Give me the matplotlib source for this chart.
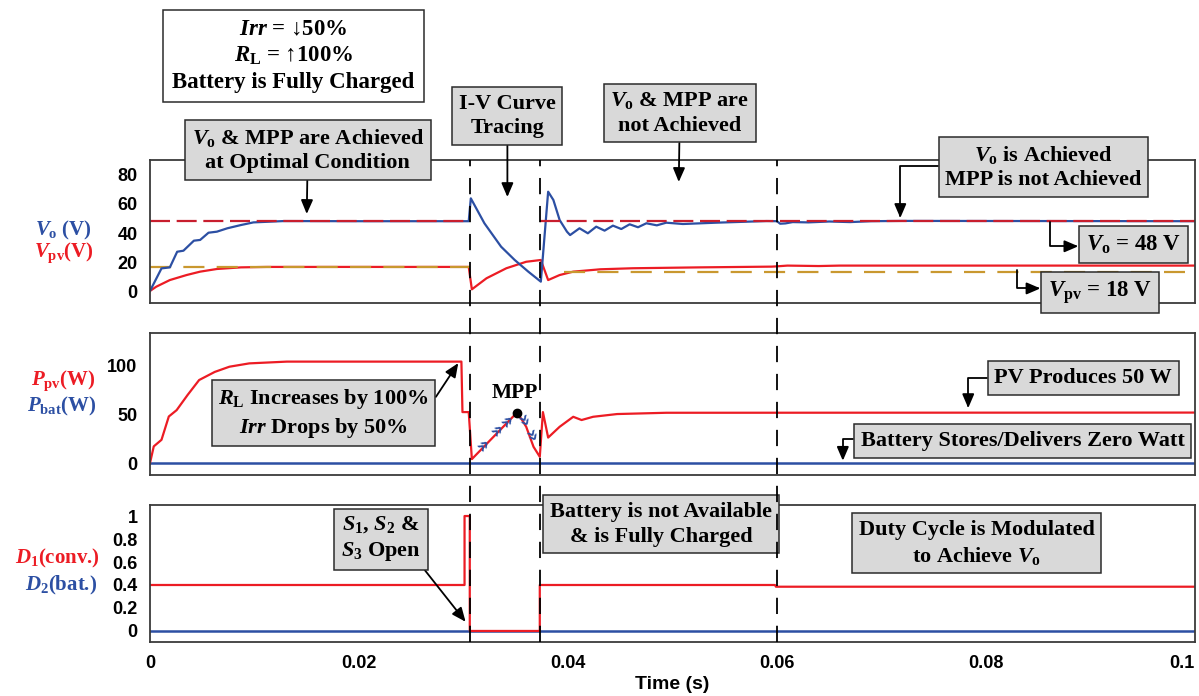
import matplotlib
matplotlib.use("Agg")
import matplotlib.pyplot as plt
from matplotlib.lines import Line2D
from matplotlib.transforms import blended_transform_factory

# values
vo_t = [0, 0.0011, 0.0019, 0.0026, 0.0032, 0.0042, 0.0048, 0.0056, 0.0064, 0.0074,
        0.0087, 0.0099, 0.0128, 0.0200, 0.0305, 0.0307, 0.0320, 0.0336, 0.0349, 0.0362,
        0.0374, 0.0381, 0.0386, 0.0392, 0.0399, 0.0402, 0.0411, 0.0419, 0.0427, 0.0435,
        0.0443, 0.0451, 0.0459, 0.0467, 0.0475, 0.0485, 0.0494, 0.0510, 0.0542, 0.0590,
        0.0600, 0.0603, 0.0608, 0.0615, 0.0630, 0.0650, 0.0670, 0.0690, 0.0720, 0.1000]
vo_v = [0.7, 16, 16.7, 27.3, 28, 34.8, 35.3, 40.2, 40.9, 43.2,
        45.4, 47.2, 48.1, 48, 48, 63.5, 46.6, 30.7, 21.7, 13.8,
        7.0, 68, 62.4, 48.8, 40.9, 38.6, 43.2, 39.8, 44.3, 41.6,
        45, 42.7, 45.9, 43.9, 46.6, 45.2, 47, 46.1, 47, 48.1,
        48, 46.3, 46.5, 47.4, 47.2, 47.8, 47.4, 48, 48.2, 48]

vpv_t = [0, 0.0006, 0.0019, 0.0035, 0.0048, 0.0064, 0.0087, 0.0112, 0.0305, 0.0308,
         0.0322, 0.0341, 0.0360, 0.0374, 0.0381, 0.0392, 0.0405, 0.0431, 0.0462, 0.0526,
         0.0595, 0.0600, 0.0610, 0.0640, 0.0660, 0.1000]
vpv_v = [0.7, 3.6, 8.1, 11.5, 13.8, 15.6, 16.7, 17.0, 17.0, 1.8,
         9.3, 16.1, 20.5, 21.7, 8.1, 11.5, 13.8, 15.4, 16.1, 16.7,
         17.2, 17.4, 17.9, 17.6, 17.9, 17.9]

vo_ref_start = [0.0, 0.0373]
vo_ref_end = [0.0306, 0.1]
vo_ref_val = [48, 48]
vpv_ref_start = [0.0, 0.0396]
vpv_ref_end = [0.0306, 0.0990]
vpv_ref_val = [17.0, 13.6]

ppv_t = [0, 0.00036, 0.0011, 0.0018, 0.00255, 0.0036, 0.0047, 0.0062, 0.0076, 0.0095,
         0.0131, 0.0298, 0.0299, 0.0305, 0.0308, 0.0351, 0.0356, 0.0360, 0.0367, 0.0373,
         0.0376, 0.0381, 0.0392, 0.0405, 0.0413, 0.0424, 0.0447, 0.0494, 0.1000]
ppv_v = [0, 17, 23.7, 47.5, 54, 69.5, 84.7, 93, 98.3, 101.7,
         103.5, 103.5, 52, 52, 4, 51.3, 44, 37, 16.6, 6.4,
         52, 26, 37, 47.2, 43.9, 47.2, 50, 51.3, 51.5]
pbat_t = [0, 0.1]
pbat_v = [0, 0]

mpp_t = [0.0351]
mpp_v = [51.3]
chev_t = [0.0318, 0.0332, 0.0341, 0.0357, 0.0364]
chev_v = [19, 34, 43, 43, 28]
chev_rot = [45, 45, 45, -62, -62]

d1_t = [0, 0.0301, 0.0301, 0.0306, 0.0306, 0.0373, 0.0373, 0.0598, 0.0599, 0.1]
d1_v = [0.4, 0.4, 1, 1, 0, 0, 0.4, 0.4, 0.385, 0.385]
d2_t = [0, 0.1]
d2_v = [0, 0]

event_t = [0.0306, 0.0373, 0.06]

x_ticks = [0, 0.02, 0.04, 0.06, 0.08, 0.1]
x_labels = ['0', '0.02', '0.04', '0.06', '0.08', '0.1']
v_ticks = [0, 20, 40, 60, 80]
p_ticks = [0, 50, 100]
d_ticks = [0, 0.2, 0.4, 0.6, 0.8, 1]
d_labels = ['0', '0.2', '0.4', '0.6', '0.8', '1']

RED = '#ec1c24'
BLUE = '#2c4fa3'
DRED = '#c81e2e'
GOLD = '#c9982f'
GRAY = '#d9d9d9'
EDGE = '#2b2b2b'
SERIF = ['Liberation Serif', 'DejaVu Serif']

plt.rcParams['font.family'] = ['Liberation Sans', 'DejaVu Sans']
plt.rcParams['font.weight'] = 'bold'
plt.rcParams['axes.labelweight'] = 'bold'
plt.rcParams['mathtext.fontset'] = 'custom'
plt.rcParams['mathtext.rm'] = 'Liberation Serif:bold'
plt.rcParams['mathtext.bf'] = 'Liberation Serif:bold'
plt.rcParams['mathtext.it'] = 'Liberation Serif:italic:bold'

W, H = 1199, 696


def px_rect(l, t, r, b):
    return [l / W, 1 - b / H, (r - l) / W, (b - t) / H]


fig = plt.figure(figsize=(W / 100, H / 100), dpi=100)
ax1 = fig.add_axes(px_rect(150, 160, 1195, 303))
ax2 = fig.add_axes(px_rect(150, 333, 1195, 475))
ax3 = fig.add_axes(px_rect(150, 505, 1195, 642))

# top: voltages
ax1.plot(vpv_t, vpv_v, color=RED, lw=1.6)
for a, b, v in zip(vpv_ref_start, vpv_ref_end, vpv_ref_val):
    ax1.plot([a, b], [v, v], color=GOLD, lw=1.6, linestyle=(0, (9.5, 5.5)))
ax1.plot(vo_t, vo_v, color=BLUE, lw=1.6)
for a, b, v in zip(vo_ref_start, vo_ref_end, vo_ref_val):
    ax1.plot([a, b], [v, v], color=DRED, lw=1.6, linestyle=(0, (9, 3)))
ax1.set_ylim(-7.46, 89.5)
ax1.set_yticks(v_ticks)

# middle: powers
ax2.plot(pbat_t, pbat_v, color=BLUE, lw=1.8)
ax2.plot(ppv_t, ppv_v, color=RED, lw=1.6)
ax2.plot(mpp_t, mpp_v, 'o', color='black', ms=6, zorder=5)
for t, v, r in zip(chev_t, chev_v, chev_rot):
    ax2.text(t, v, '»', color=BLUE, fontsize=14, rotation=r, ha='center', va='center',
             family=['DejaVu Sans'], rotation_mode='anchor')
ax2.set_ylim(-12.2, 132.7)
ax2.set_yticks(p_ticks)

# bottom: duty cycles
ax3.plot(d2_t, d2_v, color=BLUE, lw=1.8)
ax3.plot(d1_t, d1_v, color=RED, lw=1.6)
ax3.set_ylim(-0.096, 1.096)
ax3.set_yticks(d_ticks)
ax3.set_yticklabels(d_labels)
ax3.set_xticks(x_ticks)
ax3.set_xticklabels(x_labels)
ax3.get_xticklabels()[-1].set_ha('right')
ax3.set_xlabel('Time (s)', fontsize=14, fontweight='bold', labelpad=3)

for ax in (ax1, ax2, ax3):
    ax.set_xlim(0, 0.1)
    ax.tick_params(length=0, labelsize=13, pad=9)
    for s in ax.spines.values():
        s.set_color('#3a3a3a')
        s.set_linewidth(1.3)
for ax in (ax1, ax2):
    ax.set_xticks(x_ticks)
    ax.tick_params(labelbottom=False)

# event lines across all three panels
trans = blended_transform_factory(ax1.transData, fig.transFigure)
for t in event_t:
    fig.add_artist(Line2D([t, t], [1 - 642 / H, 1 - 160 / H], transform=trans,
                          color='black', lw=1.3, linestyle=(0, (9, 6.5))))

# y labels
ylab = dict(family=SERIF, fontsize=15, ha='right', va='center')
fig.text(92 / W, 1 - 230 / H, r'$V_{\rm o}$ (V)', color=BLUE, **ylab)
fig.text(94 / W, 1 - 253 / H, r'$V_{\rm pv}$(V)', color=RED, **ylab)
fig.text(96 / W, 1 - 381 / H, r'$P_{\rm pv}$(W)', color=RED, **ylab)
fig.text(96 / W, 1 - 406 / H, r'$P_{\rm bat}$(W)', color=BLUE, **ylab)
fig.text(100 / W, 1 - 558 / H, r'$D_{\rm 1}$(conv.)', color=RED, **ylab)
fig.text(97 / W, 1 - 585 / H, r'$D_{\rm 2}$(bat.)', color=BLUE, **ylab)

# annotations
FS = 16
BOX = dict(boxstyle='square,pad=0.3', fc=GRAY, ec=EDGE, lw=1.1)
TXT = dict(family=SERIF, fontsize=FS, ha='center', va='center', multialignment='center',
           linespacing=1.3, annotation_clip=False)
ARR = dict(arrowstyle='-|>,head_length=0.7,head_width=0.3', color='black', lw=1.3,
           shrinkA=0, shrinkB=0, mutation_scale=12)


def arrow(**kw):
    d = dict(ARR)
    d.update(kw)
    return d


ax1.text(0.01373, 160, '$Irr$ = ↓50%\n$R_{\\rm L}$ = ↑100%\nBattery is Fully Charged',
         family=SERIF, fontsize=16.5, ha='center', va='center', multialignment='center',
         linespacing=1.3, bbox=dict(boxstyle='square,pad=0.4', fc='white', ec=EDGE, lw=1.1))

ax1.annotate('$V_{\\rm o}$ & MPP are Achieved\nat Optimal Condition', xy=(0.0150, 52.9),
             xytext=(0.0151, 96.3), bbox=BOX, arrowprops=arrow(), **TXT)
ax1.annotate('I-V Curve\nTracing', xy=(0.0342, 64.4), xytext=(0.0342, 119.3),
             bbox=BOX, arrowprops=arrow(), **TXT)
ax1.annotate('$V_{\\rm o}$ & MPP are\nnot Achieved', xy=(0.0506, 74.6), xytext=(0.0507, 121.4),
             bbox=BOX, arrowprops=arrow(), **TXT)
ax1.annotate('$V_{\\rm o}$ is Achieved\nMPP is not Achieved', xy=(0.0718, 50.2),
             xytext=(0.0855, 84.7), bbox=BOX,
             arrowprops=arrow(relpos=(0, 0.52), connectionstyle='angle,angleA=180,angleB=90,rad=0'),
             **TXT)
ax1.annotate('$V_{\\rm o}$ = 48 V', xy=(0.0861, 47.5), xytext=(0.0941, 32.2), bbox=BOX,
             arrowprops=arrow(arrowstyle='<|-,head_length=0.7,head_width=0.3', relpos=(0, 0.42),
                              connectionstyle='angle,angleA=180,angleB=90,rad=0'),
             **dict(TXT, fontsize=16.5))
ax1.annotate('$V_{\\rm pv}$ = 18 V', xy=(0.0830, 14.9), xytext=(0.0909, -0.3), bbox=BOX,
             arrowprops=arrow(arrowstyle='<|-,head_length=0.7,head_width=0.3', relpos=(0, 0.65),
                              connectionstyle='angle,angleA=180,angleB=90,rad=0'),
             **dict(TXT, fontsize=16.5))

ax2.annotate('$R_{\\rm L}$ Increases by 100%\n$Irr$ Drops by 50%', xy=(0.0295, 102),
             xytext=(0.0166, 51), bbox=BOX, arrowprops=arrow(relpos=(1, 0.6)), **TXT)
ax2.text(0.0349, 71.4, 'MPP', family=SERIF, fontsize=15.5, ha='center', va='center')
ax2.annotate('PV Produces 50 W', xy=(0.0783, 56.1), xytext=(0.0893, 86.7), bbox=BOX,
             arrowprops=arrow(relpos=(0, 0.5), connectionstyle='angle,angleA=180,angleB=90,rad=0'),
             **TXT)
ax2.annotate('Battery Stores/Delivers Zero Watt', xy=(0.0663, 2.3), xytext=(0.0835, 22.4),
             bbox=BOX,
             arrowprops=arrow(relpos=(0, 0.6), connectionstyle='angle,angleA=180,angleB=90,rad=0'),
             **TXT)

ax3.annotate('$S_{\\rm 1}$, $S_{\\rm 2}$ &\n$S_{\\rm 3}$ Open', xy=(0.0302, 0.08),
             xytext=(0.0221, 0.802), bbox=BOX, arrowprops=arrow(relpos=(0.97, 0.02)), **TXT)
ax3.text(0.0489, 0.928, 'Battery is not Available\n& is Fully Charged', bbox=BOX,
         family=SERIF, fontsize=FS, ha='center', va='center', multialignment='center',
         linespacing=1.3)
ax3.text(0.0791, 0.763, 'Duty Cycle is Modulated\nto Achieve $V_{\\rm o}$', bbox=BOX,
         family=SERIF, fontsize=FS, ha='center', va='center', multialignment='center',
         linespacing=1.3)

fig.savefig('out.png', dpi=100)
